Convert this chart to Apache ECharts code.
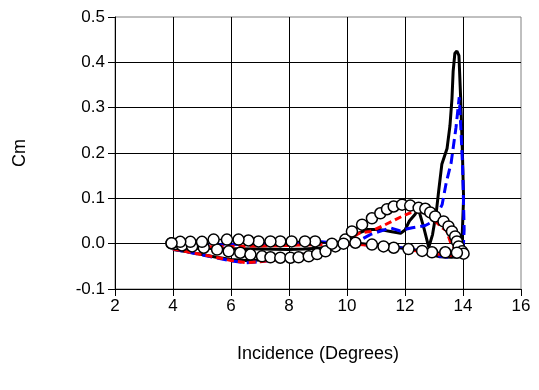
<!DOCTYPE html>
<html>
<head>
<meta charset="utf-8">
<script src="https://cdn.jsdelivr.net/npm/echarts@6/dist/echarts.min.js"></script>
<style>html,body{margin:0;padding:0;background:#fff}#c{width:539px;height:390px}</style>
</head>
<body>
<div id="c"></div>
<script>
// x-axis ticks (degrees) and y-axis ticks (Cm)
var xTicks = [2, 4, 6, 8, 10, 12, 14, 16];
var yTicks = [-0.1, 0.0, 0.1, 0.2, 0.3, 0.4, 0.5];

// Black solid curve
var blackX = [4.0,4.5,5.0,5.5,6.0,6.5,7.0,7.5,8.0,8.5,9.0,9.5,9.8,10.2,10.7,11.15,11.5,11.85,12.0,12.15,12.35,12.47,12.65,12.82,12.95,13.08,13.15,13.27,13.45,13.55,13.62,13.66,13.72,13.79,13.86,13.92,13.98,14.02,13.98,13.96,14.0,
              13.6,13.2,12.9,12.5,12.0,11.5,11.0,10.5,10.0,9.5,9.0,8.5,8.0,7.0,6.0,5.0,4.0];
var blackY = [-0.013,-0.018,-0.024,-0.030,-0.035,-0.037,-0.036,-0.033,-0.029,-0.023,-0.016,-0.009,-0.005,0.018,0.031,0.031,0.027,0.023,0.030,0.050,0.065,0.075,0.035,-0.008,0.020,0.070,0.110,0.175,0.210,0.260,0.320,0.380,0.420,0.425,0.415,0.320,0.200,0.100,0.030,-0.010,-0.028,
              -0.030,-0.029,-0.024,-0.016,-0.010,-0.006,-0.003,0.000,-0.002,-0.006,-0.010,-0.012,-0.013,-0.012,-0.011,-0.010,-0.009];

// Blue dashed curve
var blueX = [4.0,5.0,6.0,6.5,7.0,8.0,9.0,9.6,10.23,10.8,11.49,11.84,11.97,12.25,12.7,13.0,13.28,13.42,13.59,13.76,13.87,13.93,13.99,14.04,14.0,
             13.5,13.0,12.5,12.0,11.0,10.0,9.1,8.0,7.0,6.0,5.0,4.0];
var blueY = [-0.012,-0.025,-0.038,-0.042,-0.040,-0.032,-0.018,-0.006,0.000,0.020,0.035,0.028,0.031,0.035,0.040,0.050,0.086,0.134,0.178,0.257,0.323,0.250,0.163,0.031,-0.025,
             -0.030,-0.026,-0.016,-0.010,-0.004,0.000,0.004,0.002,0.000,-0.002,-0.004,-0.006];

// Red dashed curve
var redX = [4.0,5.0,6.0,6.5,7.0,8.0,9.0,9.6,10.2,10.46,10.8,11.26,11.89,12.18,12.5,12.9,13.3,13.42,13.6,13.8,14.0,
            13.5,13.0,12.0,11.0,10.0,9.0,8.0,7.0,6.0,5.0,4.0];
var redY = [-0.012,-0.024,-0.037,-0.042,-0.040,-0.032,-0.018,-0.004,0.015,0.024,0.027,0.040,0.060,0.068,0.072,0.058,0.034,0.030,-0.002,-0.015,-0.022,
            -0.026,-0.022,-0.012,-0.004,0.000,-0.002,-0.004,-0.005,-0.006,-0.007,-0.008];

// Open-circle curve
var circleX = [3.95,4.08,4.31,4.66,5.06,5.52,5.92,6.32,6.67,7.07,7.36,7.70,8.05,8.33,8.68,8.97,9.26,9.60,9.94,10.17,10.52,10.86,11.15,11.38,11.61,11.90,12.18,12.47,12.70,12.87,13.04,13.33,13.50,13.62,13.73,13.79,13.85,13.97,14.02,
               13.79,13.39,12.93,12.59,12.12,11.61,11.26,10.86,10.29,9.88,9.48,8.90,8.55,8.09,7.70,7.36,6.95,6.60,6.26,5.86,5.40,5.00,4.60,4.25,3.95];
var circleY = [0.001,-0.001,-0.004,-0.006,-0.009,-0.013,-0.017,-0.020,-0.024,-0.028,-0.030,-0.031,-0.031,-0.030,-0.028,-0.023,-0.017,-0.006,0.009,0.027,0.042,0.056,0.067,0.076,0.082,0.086,0.084,0.079,0.077,0.069,0.060,0.049,0.038,0.027,0.016,0.005,-0.006,-0.017,-0.022,
               -0.020,-0.019,-0.019,-0.016,-0.012,-0.009,-0.006,-0.002,0.002,0.000,0.000,0.005,0.005,0.005,0.005,0.005,0.005,0.007,0.009,0.009,0.009,0.004,0.004,0.004,0.001];

function pairs(xs, ys) { return xs.map(function (x, i) { return [x, ys[i]]; }); }

var chart = echarts.init(document.getElementById('c'), null, {renderer: 'canvas'});
var font = 'Liberation Sans, Arial, sans-serif';
chart.setOption({
  animation: false,
  backgroundColor: '#fff',
  grid: {left: 115, right: 18, top: 17, bottom: 101, show: true, borderColor: '#808080', borderWidth: 1, containLabel: false},
  xAxis: {
    type: 'value', min: xTicks[0], max: xTicks[xTicks.length - 1], interval: 2,
    name: 'Incidence (Degrees)', nameLocation: 'middle', nameGap: 56,
    nameTextStyle: {fontFamily: font, fontSize: 18, color: '#000'},
    axisLine: {show: true, onZero: false, lineStyle: {color: '#000', width: 1}},
    axisTick: {show: true, inside: false, length: 7, lineStyle: {color: '#000'}},
    axisLabel: {margin: 9, fontFamily: font, fontSize: 17, color: '#000'},
    splitLine: {show: true, showMinLine: false, showMaxLine: false, lineStyle: {color: '#000', width: 1}}
  },
  yAxis: {
    type: 'value', min: yTicks[0], max: yTicks[yTicks.length - 1], interval: 0.1,
    name: 'Cm', nameLocation: 'middle', nameGap: 86, nameRotate: 90,
    nameTextStyle: {fontFamily: font, fontSize: 18, color: '#000'},
    axisLine: {show: true, onZero: false, lineStyle: {color: '#000', width: 1}},
    axisTick: {show: true, inside: false, length: 7, lineStyle: {color: '#000'}},
    axisLabel: {margin: 10, fontFamily: font, fontSize: 17, color: '#000',
      formatter: function (v) { return v.toFixed(1); }},
    splitLine: {show: true, showMinLine: false, showMaxLine: false, lineStyle: {color: '#000', width: 1}}
  },
  series: [
    {type: 'line', data: pairs(blackX, blackY), showSymbol: false, symbol: 'none',
     lineStyle: {color: '#000', width: 3}, z: 2},
    {type: 'line', data: pairs(blueX, blueY), showSymbol: false, symbol: 'none',
     lineStyle: {color: '#0000ff', width: 3, type: [10, 5]}, z: 3},
    {type: 'line', data: pairs(redX, redY), showSymbol: false, symbol: 'none',
     lineStyle: {color: '#ff0000', width: 3, type: [7, 4]}, z: 3},
    {type: 'line', data: pairs(circleX, circleY), symbol: 'circle', symbolSize: 11, showAllSymbol: true,
     lineStyle: {color: '#000', width: 1.5},
     itemStyle: {color: '#fff', borderColor: '#000', borderWidth: 1.5}, z: 4}
  ]
});
</script>
</body>
</html>
